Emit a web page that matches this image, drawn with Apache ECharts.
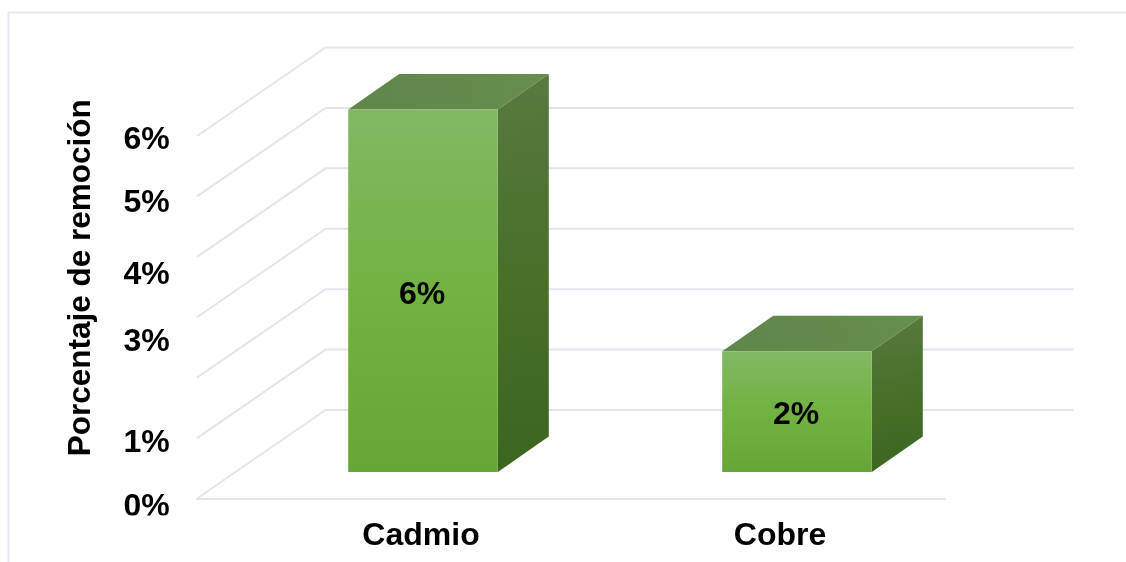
<!DOCTYPE html>
<html>
<head>
<meta charset="utf-8">
<style>html,body{margin:0;padding:0;background:#fff}#c{width:1126px;height:562px}</style>
<script src="https://cdn.jsdelivr.net/npm/echarts@6/dist/echarts.min.js"></script>
</head>
<body>
<div id="c"></div>
<script>
const categories = ['Cadmio', 'Cobre'];
const removal = [6.0, 2.0];
const tickValues = [0, 1, 2, 3, 4, 5, 6];
const tickLabelValues = [6, 5, 4, 3, 1, 0];
const yAxisTitle = 'Porcentaje de remoción';

const FONT = '"Liberation Sans", Arial, sans-serif';
const TXT = 'bold 32px ' + FONT;
const GRID_COLOR = '#e2e5ec';
const WALL_DX = 128.6, WALL_DY = 88.5;
const BAR_DX = 39, BAR_DY = 26.5, DEPTH_DX = 51, DEPTH_DY = 35.5;
const LABEL_NUDGE = {6: 4, 5: 7, 4: 18, 3: 25, 1: 5, 0: 9};

const lin = (x1, y1, x2, y2, stops) => ({
  type: 'linear', x: x1, y: y1, x2: x2, y2: y2,
  colorStops: stops.map(s => ({offset: s[0], color: s[1]}))
});

const chart = echarts.init(document.getElementById('c'), null, {renderer: 'canvas'});
chart.setOption({
  animation: false,
  backgroundColor: '#fff',
  grid: {left: 197, top: 136, width: 748, height: 362.5, containLabel: false},
  graphic: [
    {type: 'polyline', z: 0, shape: {points: [[8.5, 570], [8.5, 12.5], [1130, 12.5]]},
     style: {fill: null, stroke: '#e4e7ef', lineWidth: 2}},
    {type: 'rect', z: 100, shape: {x: 115, y: 515.5, width: 65, height: 5}, style: {fill: '#fff'}}
  ],
  xAxis: {
    type: 'category',
    data: [
      {value: categories[0], textStyle: {padding: [0, 0, 0, 74]}},
      {value: categories[1], textStyle: {padding: [0, 0, 0, 44]}}
    ],
    axisTick: {show: false},
    axisLine: {show: true, lineStyle: {color: GRID_COLOR, width: 2}},
    axisLabel: {margin: 22, color: '#000', fontFamily: FONT, fontWeight: 'bold', fontSize: 32}
  },
  yAxis: {
    type: 'value', min: 0, max: 6, interval: 1,
    axisLine: {show: false}, axisTick: {show: false},
    axisLabel: {show: false}, splitLine: {show: false},
    name: yAxisTitle, nameLocation: 'middle', nameGap: 100, nameRotate: 90,
    nameTextStyle: {color: '#000', fontFamily: FONT, fontWeight: 'bold', fontSize: 31.5, padding: [0, 0, 0, 79]}
  },
  series: [
    {
      type: 'custom', z: 1, silent: true, clip: false,
      data: tickValues.map(v => [0, v]),
      renderItem(params, api) {
        const cs = params.coordSys;
        const y = api.coord([0, api.value(1)])[1];
        const x0 = cs.x, x1 = cs.x + cs.width;
        return {
          type: 'polyline',
          shape: {points: [[x0, y], [x0 + WALL_DX, y - WALL_DY], [x1 + WALL_DX, y - WALL_DY]]},
          style: {fill: null, stroke: GRID_COLOR, lineWidth: 2}
        };
      }
    },
    {
      type: 'custom', z: 3, silent: true, clip: false,
      data: removal.map((v, i) => [i, v]),
      renderItem(params, api) {
        const idx = api.value(0), val = api.value(1);
        const top = api.coord([idx, val]);
        const base = api.coord([idx, 0]);
        const w = api.size([1, 0])[0] * 0.4;
        const xl = top[0] + BAR_DX - w / 2, xr = xl + w;
        const yt = top[1] - BAR_DY, yb = base[1] - BAR_DY;
        return {
          type: 'group',
          children: [
            {type: 'polygon',
             shape: {points: [[xl, yt], [xl + DEPTH_DX, yt - DEPTH_DY], [xr + DEPTH_DX, yt - DEPTH_DY], [xr, yt]]},
             style: {fill: lin(0, 1, 1, 0, [[0, '#60864a'], [1, '#668e4e']])}},
            {type: 'polygon',
             shape: {points: [[xr, yt], [xr + DEPTH_DX, yt - DEPTH_DY], [xr + DEPTH_DX, yb - DEPTH_DY], [xr, yb]]},
             style: {fill: lin(0, 0, 0.6, 1, [[0, '#587a40'], [0.5, '#487029'], [1, '#3c6520']])}},
            {type: 'rect',
             shape: {x: xl, y: yt, width: w, height: yb - yt},
             style: {fill: lin(0, 0, 0, 1, [[0, '#83b863'], [0.55, '#70b23f'], [1, '#66a636']])}},
            {type: 'text', x: xl + w / 2 - 1, y: (yt + yb) / 2 + 4,
             style: {text: Math.round(val) + '%', font: TXT, fill: '#000', align: 'center', verticalAlign: 'middle'}}
          ]
        };
      }
    },
    {
      type: 'custom', z: 4, silent: true, clip: false,
      data: tickLabelValues.map(v => [0, v]),
      renderItem(params, api) {
        const v = api.value(1);
        return {
          type: 'text',
          x: params.coordSys.x - 50.5,
          y: api.coord([0, v])[1] + LABEL_NUDGE[v],
          style: {text: v + '%', font: TXT, fill: '#000', align: 'center', verticalAlign: 'middle'}
        };
      }
    }
  ]
});
</script>
</body>
</html>
